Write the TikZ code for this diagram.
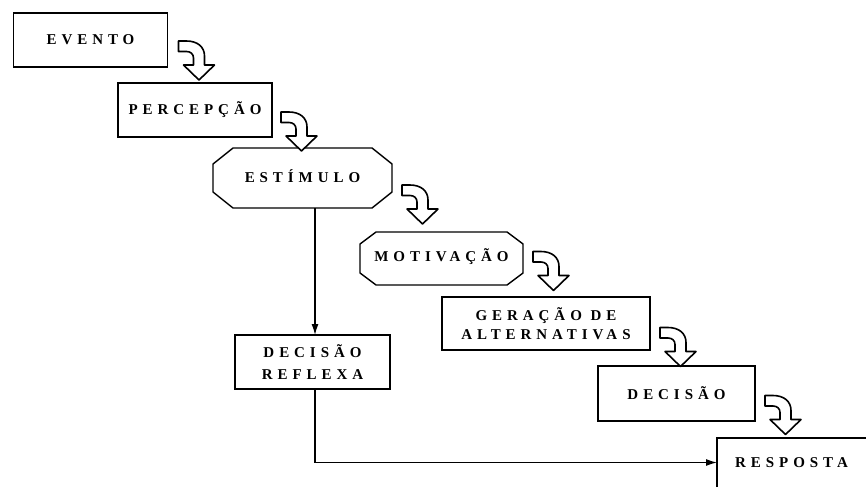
\documentclass[tikz,border=0pt]{standalone}
\usepackage{fontspec}
\setmainfont{Liberation Serif}
\newfontfamily\boxfont[LetterSpace=33]{Liberation Serif}
\usetikzlibrary{arrows.meta,calc}

\tikzset{
  box/.style={draw, line width=1.4pt, inner sep=0pt, outer sep=0pt,
    font=\boxfont\bfseries\fontsize{15}{19}\selectfont, align=center},
  octbox/.style={box, draw=none},
  outline/.style={line width=1.4pt, line join=miter},
  conn/.style={line width=1.3pt, -{Latex[length=11pt,width=7pt]}},
  bendstyle/.style={draw, fill=white, line width=1.6pt, line join=round},
  % hollow bent arrow, origin at its upper left corner (y grows downwards)
  bentarrow/.pic={
    \path[bendstyle] (0,0) -- (8,0) .. controls (19,0) and (26,6) .. (26,15)
      -- (26,24) -- (36,24) -- (20.5,39) -- (5,24) -- (15,24) -- (15,17)
      .. controls (15,13) and (12,10.5) .. (8,10.5) -- (0,10.5) -- cycle;
  }
}

% octagon drawn round a named node: #2 = horizontal cut, #3 = vertical cut
\newcommand\octagonround[3]{%
  \draw[outline]
    ($(#1.north west)+(#2,0)$) -- ($(#1.north east)+(-#2,0)$)
    -- ($(#1.north east)+(0,#3)$) -- ($(#1.south east)+(0,-#3)$)
    -- ($(#1.south east)+(-#2,0)$) -- ($(#1.south west)+(#2,0)$)
    -- ($(#1.south west)+(0,-#3)$) -- ($(#1.north west)+(0,#3)$) -- cycle;}

\begin{document}
\begin{tikzpicture}[x=1pt,y=-1pt]
\useasboundingbox[fill=white] (0,0) rectangle (866,487);

% steps of the process
\node[box, minimum width=154pt, minimum height=54pt] (evento) at (90.5,40) {EVENTO};
\node[box, minimum width=154pt, minimum height=54pt] (percepcao) at (195,110) {\raisebox{2pt}{PERCEPÇÃO}};
\node[octbox, minimum width=179pt, minimum height=60pt] (estimulo) at (302.5,178) {\raisebox{3pt}{ESTÍMULO}};
\octagonround{estimulo}{20}{16}
\node[octbox, minimum width=163pt, minimum height=53pt] (motivacao) at (441.5,258.5) {\raisebox{6pt}{MOTIVAÇÃO}};
\octagonround{motivacao}{16}{12}
\node[box, minimum width=208pt, minimum height=53pt] (geracao) at (546,323.5) {GERAÇÃO DE\\ALTERNATIVAS};
\node[box, minimum width=155pt, minimum height=54pt,
  font=\boxfont\bfseries\fontsize{15}{22}\selectfont] (reflexa) at (312.5,362) {DECISÃO\\REFLEXA};
\node[box, minimum width=157pt, minimum height=55pt] (decisao) at (676.5,393.5) {DECISÃO};
\node[box, draw=none, anchor=north west, minimum width=149pt, minimum height=49pt] (resposta) at (717,438) {RESPOSTA};
\draw[outline] (resposta.south west) -- (resposta.north west) -- (resposta.north east);

% bent arrows from one step to the next
\pic at ($(evento.east)+(11,1)$) {bentarrow};
\pic at ($(percepcao.east)+(9,2)$) {bentarrow};
\pic at ($(estimulo.east)+(10,7)$) {bentarrow};
\pic at ($(motivacao.east)+(10,-7)$) {bentarrow};
\pic at ($(geracao.east)+(10,4)$) {bentarrow};
\pic at ($(decisao.east)+(10,2)$) {bentarrow};

% reflex path
\coordinate (xline) at (315,0);
\draw[conn] (estimulo.south -| xline) -- (reflexa.north -| xline);
\draw[conn] (reflexa.south -| xline) |- (resposta.west);
\end{tikzpicture}
\end{document}
